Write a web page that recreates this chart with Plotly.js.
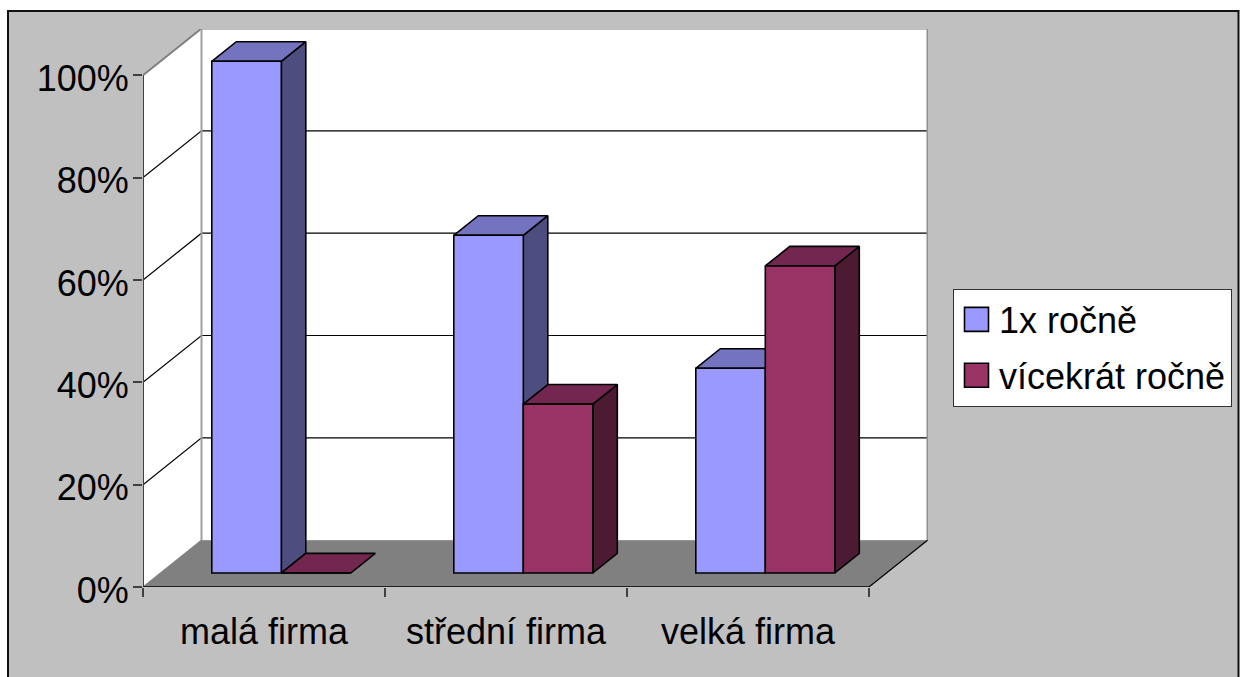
<!DOCTYPE html>
<html><head><meta charset="utf-8">
<script src="https://cdn.plot.ly/plotly-3.0.0.min.js"></script>
<style>html,body{margin:0;padding:0;background:#fff;overflow:hidden}#chart{width:1240px;height:677px}</style>
</head><body><div id="chart"></div>
<script>
const categories = ['malá firma', 'střední firma', 'velká firma'];
const series1Name = '1x ročně';
const series1Values = [100, 66, 40];
const series2Name = 'vícekrát ročně';
const series2Values = [0, 33, 60];
const yTicks = [0, 20, 40, 60, 80, 100];
const yTickLabels = ['0%', '20%', '40%', '60%', '80%', '100%'];
const xBoundaries = [-0.5, 0.5, 1.5, 2.5];

// Pixel geometry of the page
const W = 1240, H = 677, L = 143, R = 928, T = 29, B = 587;
const catPx = 242, unitPx = 5.117;
const xMin = -0.5, xMax = xMin + (R - L) / catPx;
const yMax = (B - T) / unitPx;
// Oblique depth in axis units
const wallDX = 58.5 / catPx, wallDY = 46.8 / unitPx;
const barDX = 24.5 / catPx, barDY = 19.6 / unitPx;
const barBase = 14 / unitPx, barW = 69.5 / catPx, barShift = 17.3 / catPx;
const xEnd = xBoundaries[xBoundaries.length - 1];

function poly(xs, ys, fill, line, z) {
  return {type: 'scatter', mode: 'lines', x: xs.concat(xs[0]), y: ys.concat(ys[0]), fill: 'toself',
    fillcolor: fill, line: {color: line, width: line === 'rgba(0,0,0,0)' ? 0 : 1.6}, hoverinfo: 'skip',
    showlegend: false, cliponaxis: false, zorder: z};
}
function seg(xs, ys, color, width, z) {
  return {type: 'scatter', mode: 'lines', x: xs, y: ys, line: {color: color, width: width},
    hoverinfo: 'skip', showlegend: false, cliponaxis: false, zorder: z};
}
const none = 'rgba(0,0,0,0)';
const traces = [];
// left wall, back wall, floor
traces.push(poly([xMin, xMin, xMin + wallDX, xMin + wallDX], [0, 100, 100 + wallDY, wallDY], '#ffffff', none, 0));
traces.push(poly([xMin + wallDX, xEnd + wallDX, xEnd + wallDX, xMin + wallDX], [wallDY, wallDY, 100 + wallDY, 100 + wallDY], '#ffffff', none, 0));
traces.push(poly([xMin, xEnd, xEnd + wallDX, xMin + wallDX], [0, 0, wallDY, wallDY], '#808080', none, 0));
// gridlines on the walls
yTicks.filter(t => t > 0).forEach(t => {
  const c = t === 100 ? '#808080' : '#000000', w = t === 100 ? 2 : 1.2;
  traces.push(seg([xMin, xMin + wallDX, xEnd + wallDX], [t, t + wallDY, t + wallDY], c, w, 0));
});
traces.push(seg([xMin + wallDX, xMin + wallDX], [wallDY, 100 + wallDY], '#a0a0a0', 2, 0));
traces.push(seg([xEnd + wallDX, xEnd + wallDX], [wallDY, 100 + wallDY], '#909090', 2, 0));
traces.push(seg([xEnd, xEnd + wallDX], [0, wallDY], '#000000', 1.2, 0));
traces.push(seg([xMin, xMin + wallDX], [0, wallDY], '#808080', 1.2, 0));
// axis lines
traces.push(seg([xMin, xMin], [0, 100], '#404040', 2, 0));
traces.push(seg([xMin, xEnd], [0, 0], '#202020', 2, 0));

function addSeries(name, values, fill, topFill, sideFill, off, z) {
  values.forEach((v, i) => {
    const x0 = i + off, x1 = x0 + barW, y0 = barBase, y1 = barBase + v;
    if (v > 0) traces.push(poly([x1, x1, x1 + barDX, x1 + barDX], [y0, y1, y1 + barDY, y0 + barDY], sideFill, '#000000', z));
    traces.push(poly([x0, x1, x1 + barDX, x0 + barDX], [y1, y1, y1 + barDY, y1 + barDY], topFill, '#000000', z));
  });
  traces.push({type: 'bar', name: name, x: categories.map((_, i) => i), y: values, base: barBase,
    width: barW, offset: off, marker: {color: fill, line: {color: '#000000', width: 1.6}},
    hoverinfo: 'skip', legendgroup: name, zorder: z + 1});
}
addSeries(series1Name, series1Values, '#9999ff', '#7373bf', '#4d4d80', barShift - barW, 1);
addSeries(series2Name, series2Values, '#993366', '#732650', '#4d1a33', barShift, 3);

const px = X => (X - L) / (R - L);
const py = Y => (B - Y) / (B - T);
const axisFont = {family: '"Liberation Sans", Arial, sans-serif', size: 36, color: '#000000'};
const layout = {
  width: W, height: H, autosize: false,
  margin: {l: L, r: W - R, t: T, b: H - B, pad: 0, autoexpand: false},
  paper_bgcolor: '#ffffff', plot_bgcolor: 'rgba(0,0,0,0)',
  barmode: 'overlay', showlegend: true,
  font: axisFont,
  xaxis: {type: 'linear', range: [xMin, xMax], tickmode: 'array', tickvals: categories.map((_, i) => i), ticktext: categories,
    ticks: '', showgrid: false, zeroline: false, showline: false, automargin: false, tickfont: axisFont,
    ticklabelstandoff: 20,
    minor: {tickmode: 'array', tickvals: xBoundaries, ticks: 'outside', ticklen: 9, tickwidth: 1.5, tickcolor: '#404040', showgrid: false}},
  yaxis: {range: [0, yMax], tickmode: 'array', tickvals: yTicks, ticktext: yTickLabels, ticks: 'outside', ticklen: 9,
    tickwidth: 1.5, tickcolor: '#404040', showgrid: false, zeroline: false, showline: false, automargin: false, tickfont: axisFont,
    ticklabelstandoff: -3, ticklabelshift: 3},
  legend: {x: px(953), y: py(288.5), xanchor: 'left', yanchor: 'top', bgcolor: '#ffffff', bordercolor: '#303030', borderwidth: 1,
    font: {family: axisFont.family, size: 36, color: '#000000'}, traceorder: 'grouped', tracegroupgap: 6, itemwidth: 35, itemclick: false, itemdoubleclick: false},
  shapes: [{type: 'rect', layer: 'below', xref: 'paper', yref: 'paper', x0: px(8), x1: px(1238.5), y0: py(11), y1: py(700),
    fillcolor: '#c0c0c0', line: {color: '#101010', width: 2}}]
};
Plotly.newPlot('chart', traces, layout, {displayModeBar: false}).then(() => {
  document.querySelectorAll('.legend .legendpoints path').forEach(p => {
    if (p.getAttribute('d')) p.setAttribute('d', 'M12,12H-12V-12H12Z');
  });
});
</script></body></html>
